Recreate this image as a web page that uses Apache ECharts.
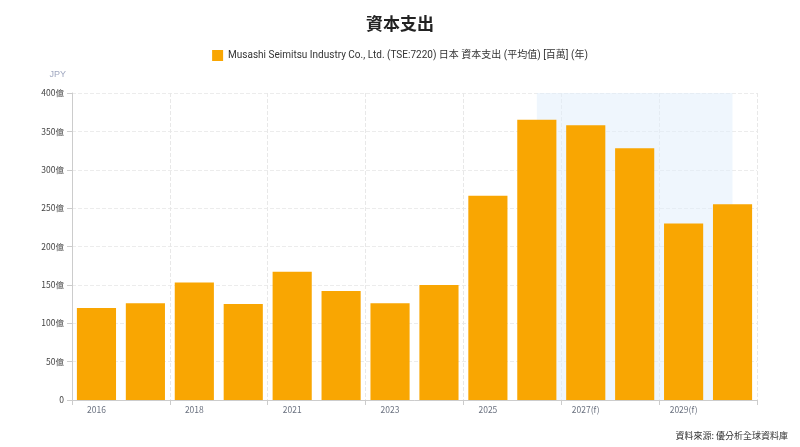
<!DOCTYPE html>
<html>
<head>
<meta charset="utf-8">
<script src="https://cdn.jsdelivr.net/npm/echarts@6/dist/echarts.min.js"></script>
<style>
  html, body { margin: 0; padding: 0; background: #fff; }
  #container { width: 800px; height: 447px; }
</style>
</head>
<body>
<div id="container"></div>
<script>
var years = ['2016', '2017', '2018', '2020', '2021', '2022', '2023', '2024', '2025', '2026(f)', '2027(f)', '2028(f)', '2029(f)', '2030(f)'];
// 資本支出, 單位: 億 JPY
var capex = [120, 126, 153, 125, 167, 142, 126, 150, 266, 365, 358, 328, 230, 255];
var forecastFrom = '2026(f)';
var forecastTo = '2030(f)';
var yTicks = [0, 50, 100, 150, 200, 250, 300, 350, 400];

var fontCJK = '"Noto Sans CJK TC", Roboto, sans-serif';
var seriesName = 'Musashi Seimitsu Industry Co., Ltd. (TSE:7220) 日本 資本支出 (平均值) [百萬] (年)';
var myChart = echarts.init(document.getElementById('container'));

var option = {
	backgroundColor: '#fff',
	animation: false,
	title: [{
		text: '資本支出',
		left: 'center',
		top: 10,
		textStyle: { fontFamily: fontCJK, fontSize: 17, fontWeight: 'bold', color: '#222' }
	}, {
		text: '資料來源: 優分析全球資料庫',
		right: 7,
		top: 426,
		textStyle: { fontFamily: fontCJK, fontSize: 9, fontWeight: 'normal', color: '#333' }
	}],
	legend: {
		top: 45,
		left: 'center',
		icon: 'rect',
		itemWidth: 11,
		itemHeight: 11,
		itemGap: 6,
		textStyle: { fontFamily: 'Roboto, "Noto Sans CJK TC", sans-serif', fontSize: 10, color: '#333' },
		data: [seriesName]
	},
	grid: { left: 72, right: 43, top: 93, bottom: 47 },
	xAxis: [{
		type: 'category',
		data: years,
		axisLine: { lineStyle: { color: '#ccc' } },
		axisTick: { show: true, lineStyle: { color: '#ccc' } },
		axisLabel: { interval: 1, color: '#6b7280', fontSize: 8.5, fontFamily: fontCJK, margin: 6 },
		splitLine: { show: true, lineStyle: { color: '#e8e8e8', type: 'dashed' } }
	}, {
		// hidden helper axis so the forecast shading runs centre to centre
		type: 'value',
		show: false,
		min: -0.5,
		max: years.length - 0.5
	}],
	yAxis: {
		type: 'value',
		name: 'JPY',
		nameLocation: 'end',
		nameGap: 14,
		nameTextStyle: { color: '#a0a8c0', fontSize: 9, align: 'right', padding: [0, 6, 0, 0] },
		min: yTicks[0],
		max: yTicks[yTicks.length - 1],
		interval: 50,
		axisLine: { show: true, onZero: false, lineStyle: { color: '#ccc' } },
		axisTick: { show: true, lineStyle: { color: '#ccc' } },
		axisLabel: {
			color: '#444',
			fontSize: 8.5,
			fontFamily: fontCJK,
			formatter: function (v) { return v === 0 ? '0' : v + '億'; }
		},
		splitLine: { show: true, lineStyle: { color: '#ececec', type: 'dashed' } }
	},
	series: [{
		name: 'forecast',
		type: 'line',
		xAxisIndex: 1,
		data: [],
		silent: true,
		markArea: {
			silent: true,
			itemStyle: { color: 'rgba(225,238,252,0.55)' },
			data: [[{ xAxis: years.indexOf(forecastFrom) }, { xAxis: years.indexOf(forecastTo) }]]
		}
	}, {
		name: seriesName,
		type: 'bar',
		data: capex,
		barCategoryGap: '20%',
		itemStyle: { color: '#f9a602' }
	}]
};

myChart.setOption(option, true);
</script>
</body>
</html>
